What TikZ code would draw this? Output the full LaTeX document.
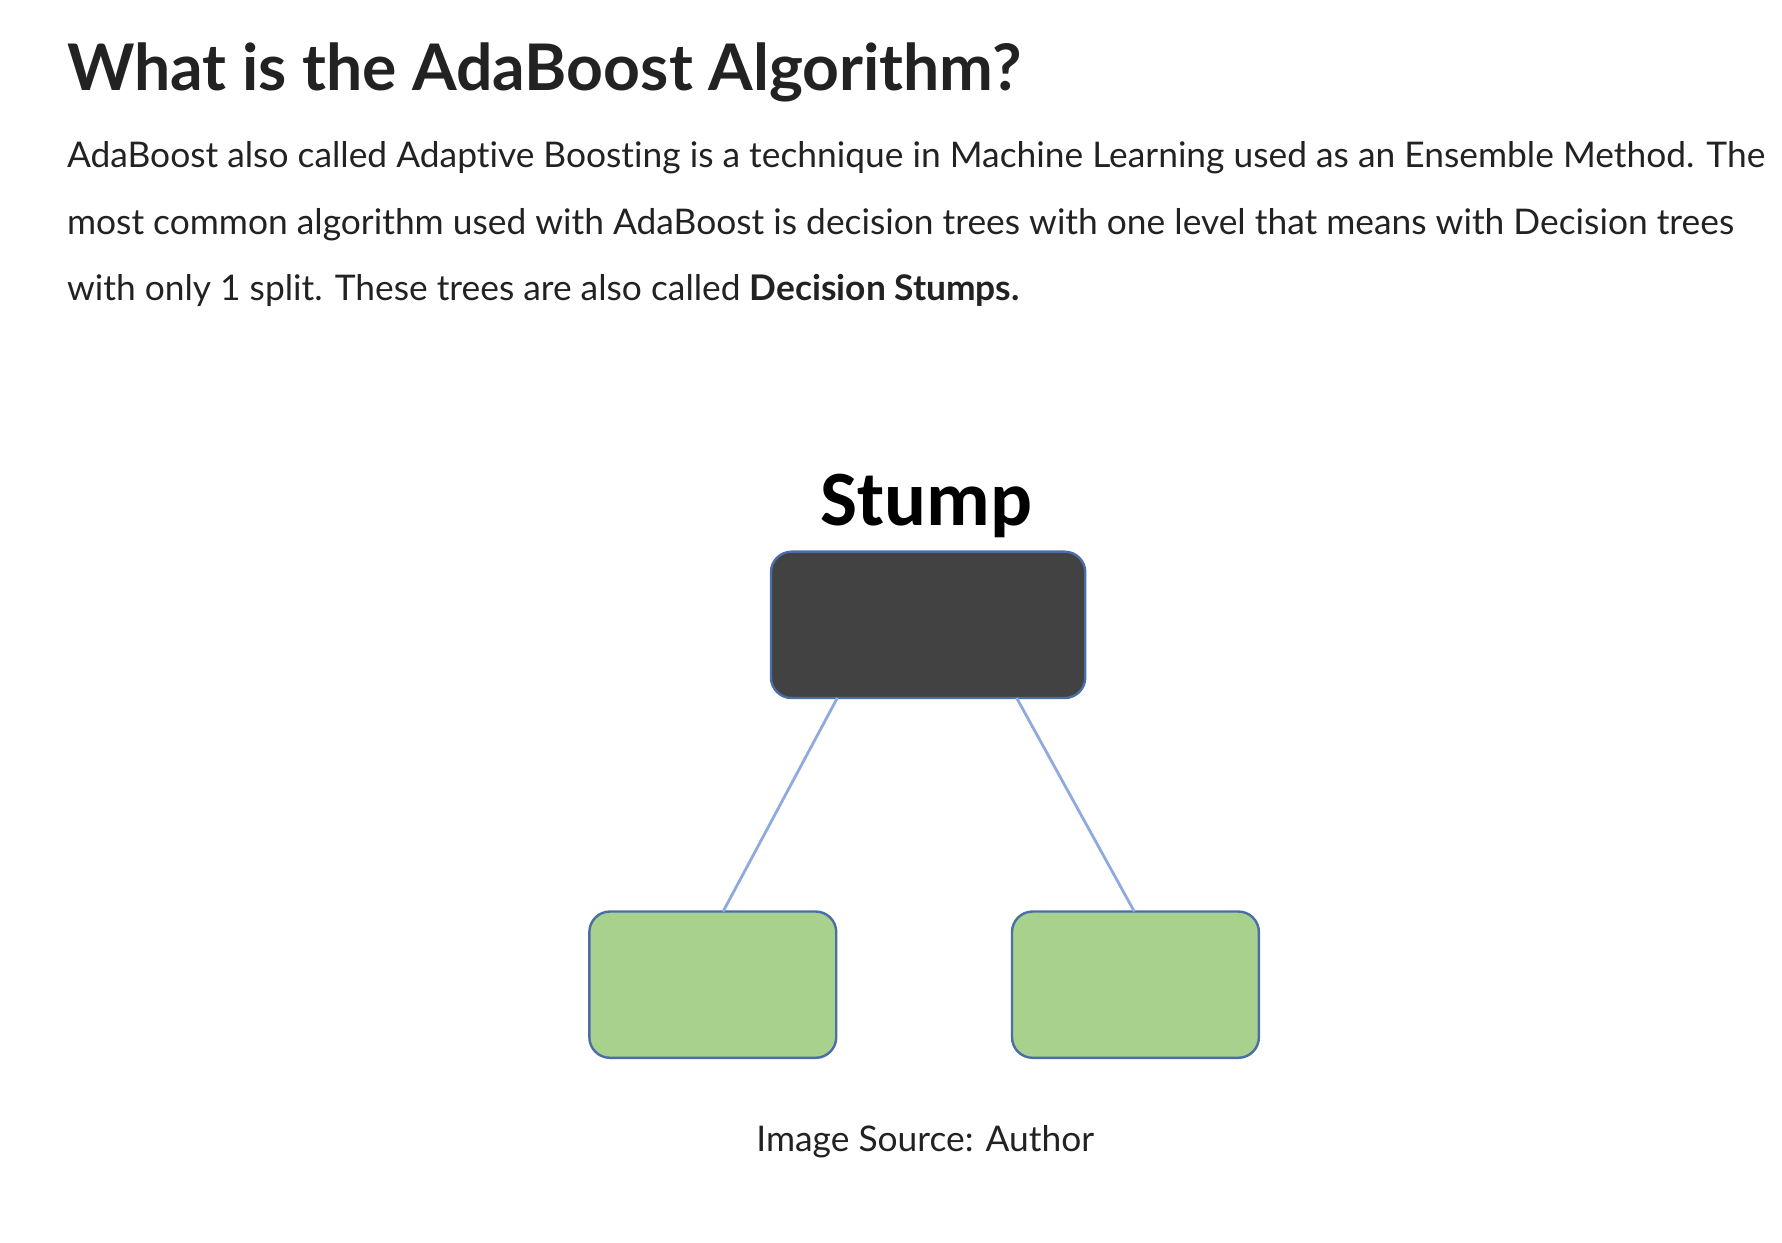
\documentclass[tikz,border=0pt]{standalone}
\usepackage{fontspec}
\setmainfont[Ligatures={NoCommon}]{Lato}
\newfontfamily\stumpfont{Carlito}
\usetikzlibrary{positioning}
\definecolor{stumpgrey}{RGB}{66,66,66}
\definecolor{leafgreen}{RGB}{169,209,142}
\definecolor{rimblue}{RGB}{74,110,165}
\definecolor{linkblue}{RGB}{143,170,220}
\definecolor{inktext}{RGB}{34,34,34}
\begin{document}
\begin{tikzpicture}[x=0.01cm, y=-0.01cm,
    box/.style={draw=rimblue, line width=0.6pt, rounded corners=0.18cm, minimum width=2.16cm, minimum height=1.28cm},
    link/.style={linkblue, line width=0.7pt},
    body/.style={anchor=base west, inner sep=0pt, text=inktext, font=\fontsize{8.8}{10}\selectfont}]

    \useasboundingbox (0,0) rectangle (1560,1088);

    \node[anchor=base west, inner sep=0pt, text=inktext, font=\fontsize{16}{20}\selectfont\bfseries] (title) at (58,79) {What is the AdaBoost Algorithm?};
    \node[body] (line1) at (58,147) {AdaBoost also called Adaptive Boosting is a technique in Machine Learning used as an Ensemble Method. The};
    \node[body] (line2) at (58,205) {most common algorithm used with AdaBoost is decision trees with one level that means with Decision trees};
    \node[body] (line3) at (58,263) {with only 1 split. These trees are also called \textbf{Decision Stumps.}};

    \node[anchor=base, inner sep=0pt, font=\stumpfont\fontsize{19.5}{24}\selectfont\bfseries] (stumplabel) at (811,460) {Stump};

    \node[box, fill=stumpgrey, minimum width=2.75cm] (root) at (812.5,547) {};
    \node[box, fill=leafgreen] (leftleaf) at (624,862) {};
    \node[box, fill=leafgreen] (rightleaf) at (994,862) {};

    \coordinate (rootl) at (733,611);
    \coordinate (rootr) at (890,611);
    \coordinate (leafl) at (633,798);
    \coordinate (leafr) at (993,798);
    \draw[link] (rootl) -- (leafl);
    \draw[link] (rootr) -- (leafr);

    \node[anchor=base, inner sep=0pt, text=inktext, font=\fontsize{8.8}{10}\selectfont] (caption) at (810,1008) {Image Source: Author};

\end{tikzpicture}
\end{document}
